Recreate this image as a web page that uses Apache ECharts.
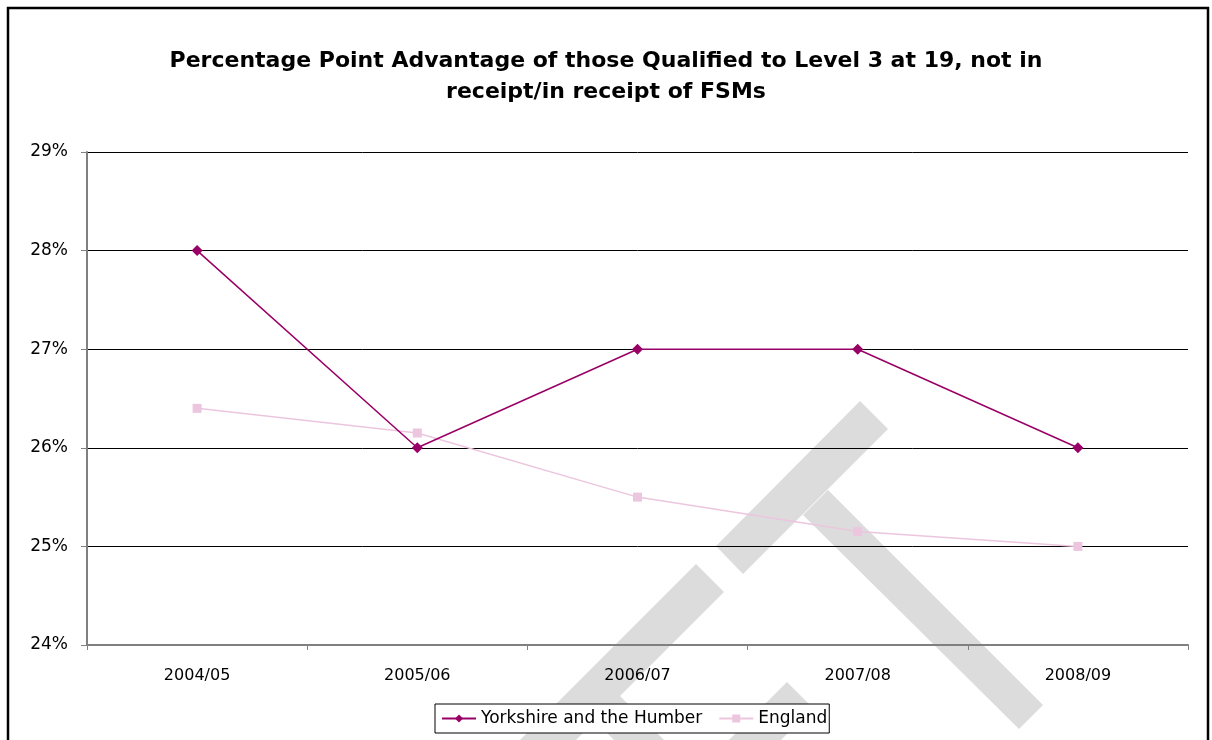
<!DOCTYPE html>
<html>
<head>
<meta charset="utf-8">
<style>
  html, body { margin: 0; padding: 0; background: #ffffff; }
  #chart { width: 1212px; height: 740px; background: #ffffff; }
</style>
<script src="https://cdn.jsdelivr.net/npm/echarts@6/dist/echarts.min.js"></script>
</head>
<body>
<div id="chart"></div>
<script>
// chart data
const years = ['2004/05', '2005/06', '2006/07', '2007/08', '2008/09'];
const yorkshire = [28, 26, 27, 27, 26];
const england = [26.4, 26.15, 25.5, 25.15, 25.0];
const yTicks = { min: 24, max: 29, step: 1 };

const font = '"DejaVu Sans", Arial, sans-serif';
const myChart = echarts.init(document.getElementById('chart'));

// grey watermark shapes, on a layer below the chart
const wmStyle = { fill: '#dcdcdc' };
const watermark = [
  [[860, 401], [888, 429], [743, 574], [716, 546]],
  [[828, 490], [1043, 705], [1019, 729], [803, 515]],
  [[696, 564], [724, 592], [620, 696], [724, 800], [674, 800], [595, 721], [516, 800], [460, 800]],
  [[787, 682], [813, 708], [721, 800], [669, 800]]
].map(pts => ({ type: 'polygon', zlevel: -1, z: 0, shape: { points: pts }, style: wmStyle, silent: true }));

const options = {
  backgroundColor: '#ffffff',
  animation: false,
  textStyle: { fontFamily: font },
  title: {
    text: 'Percentage Point Advantage of those Qualified to Level 3 at 19, not in\nreceipt/in receipt of FSMs',
    left: 'center',
    top: 41,
    textStyle: {
      fontFamily: font,
      fontSize: 22,
      fontWeight: 'bold',
      color: '#000000',
      lineHeight: 31
    }
  },
  graphic: [
    ...watermark,
    {
      type: 'rect',
      z: 100,
      shape: { x: 8, y: 8, width: 1200, height: 760 },
      style: { fill: null, stroke: '#000000', lineWidth: 2.5 },
      silent: true
    }
  ],
  grid: {
    left: 87,
    right: 24,
    top: 152,
    bottom: 95
  },
  legend: {
    data: ['Yorkshire and the Humber', 'England'],
    left: 435,
    top: 704,
    padding: [6, 2, 6, 6],
    itemGap: 16,
    itemWidth: 34,
    itemHeight: 10,
    backgroundColor: '#ffffff',
    borderColor: '#000000',
    borderWidth: 1,
    textStyle: { fontFamily: font, fontSize: 17, color: '#000000' }
  },
  xAxis: {
    type: 'category',
    data: years,
    boundaryGap: true,
    axisLine: { lineStyle: { color: '#808080', width: 2 } },
    axisTick: { show: true, length: 5, lineStyle: { color: '#808080' } },
    axisLabel: { color: '#000000', fontSize: 16, margin: 23, fontFamily: font }
  },
  yAxis: {
    type: 'value',
    min: yTicks.min,
    max: yTicks.max,
    interval: yTicks.step,
    axisLine: { show: true, lineStyle: { color: '#808080', width: 2 } },
    axisTick: { show: true, length: 6, lineStyle: { color: '#808080' } },
    axisLabel: { color: '#000000', fontSize: 17, margin: 19, fontFamily: font, formatter: '{value}%' },
    splitLine: { show: true, lineStyle: { color: '#000000', width: 1 } }
  },
  series: [
    {
      name: 'Yorkshire and the Humber',
      type: 'line',
      data: yorkshire,
      symbol: 'diamond',
      symbolSize: 11,
      lineStyle: { color: '#990066', width: 1.5 },
      itemStyle: { color: '#990066' },
      z: 3
    },
    {
      name: 'England',
      type: 'line',
      data: england,
      symbol: 'rect',
      symbolSize: 9,
      lineStyle: { color: '#ecc6de', width: 1.5 },
      itemStyle: { color: '#ecc6de' },
      z: 2
    }
  ]
};

myChart.setOption(options);
</script>
</body>
</html>
